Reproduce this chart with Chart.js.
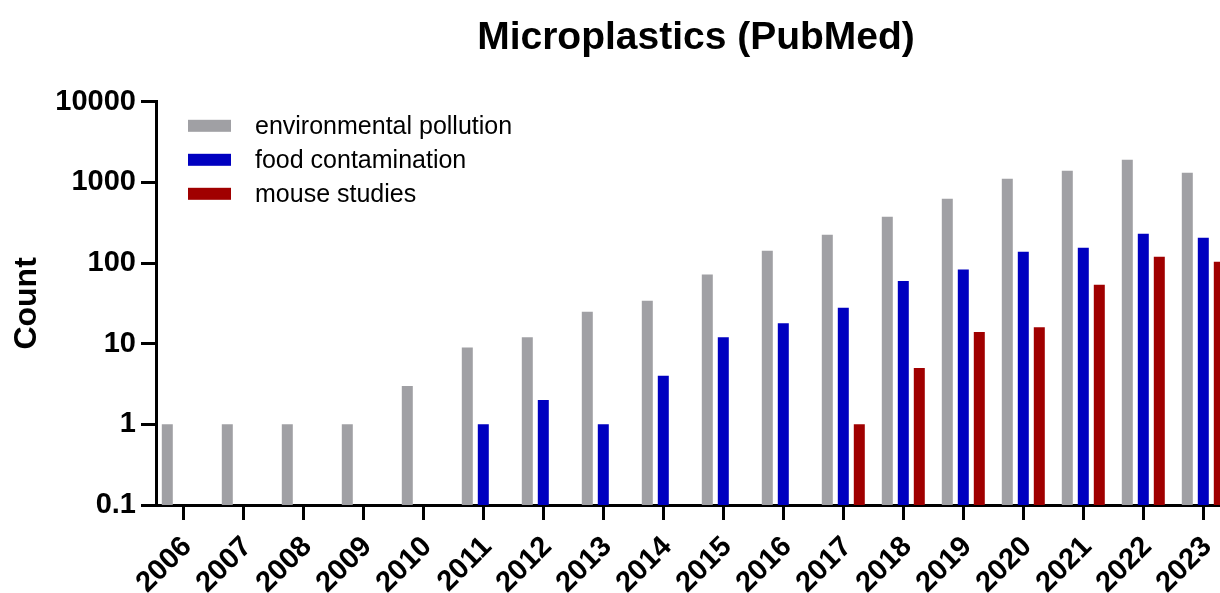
<!DOCTYPE html>
<html><head><meta charset="utf-8">
<script src="https://cdn.jsdelivr.net/npm/chart.js@4.4.0/dist/chart.umd.min.js"></script>
<style>
html,body{margin:0;padding:0;overflow:hidden;background:#fff;width:1220px;height:593px}
#c{position:absolute;left:0;top:0}
</style></head>
<body><canvas id="c" width="1236" height="593"></canvas>
<script>
const years = ['2006','2007','2008','2009','2010','2011','2012','2013','2014','2015','2016','2017','2018','2019','2020','2021','2022','2023'];
const environmentalPollution = [1,1,1,1,3,9,12,25,34,72,142,224,375,628,1111,1397,1914,1319];
const foodContamination = [null,null,null,null,null,1,2,1,4,12,18,28,60,83,138,155,231,206];
const mouseStudies = [null,null,null,null,null,null,null,null,null,null,null,1,5,14,16,54,120,104];
const seriesNames = ['environmental pollution','food contamination','mouse studies'];
const seriesColors = ['#a0a0a4','#0000c0','#a00000'];
const yTicks = [0.1,1,10,100,1000,10000];
const FONT = "'Liberation Sans', Arial, Helvetica, sans-serif";

Chart.defaults.color = '#000';
Chart.defaults.font.family = FONT;

const legendPlugin = {
  id: 'insideLegend',
  afterDraw(chart) {
    const ctx = chart.ctx, a = chart.chartArea;
    ctx.save();
    ctx.font = "25px " + FONT;
    ctx.textBaseline = 'middle';
    ctx.textAlign = 'left';
    chart.data.datasets.forEach((ds, i) => {
      const cy = a.top + 24 + i * 34;
      ctx.fillStyle = ds.backgroundColor;
      ctx.fillRect(a.left + 32, cy - 6, 43, 12);
      ctx.fillStyle = '#000';
      ctx.fillText(ds.label, a.left + 99, cy + 1);
    });
    ctx.restore();
  }
};

new Chart(document.getElementById('c'), {
  type: 'bar',
  data: {
    labels: years,
    datasets: [
      {label: seriesNames[0], data: environmentalPollution, backgroundColor: seriesColors[0]},
      {label: seriesNames[1], data: foodContamination, backgroundColor: seriesColors[1]},
      {label: seriesNames[2], data: mouseStudies, backgroundColor: seriesColors[2]}
    ]
  },
  options: {
    responsive: false,
    animation: false,
    categoryPercentage: 0.8,
    barPercentage: 0.6875,
    layout: {padding: {left: 0, right: 0, top: 0, bottom: 0}},
    plugins: {
      legend: {display: false},
      tooltip: {enabled: false},
      title: {
        display: true,
        text: 'Microplastics (PubMed)',
        fullSize: false,
        font: {size: 39, weight: 'bold', family: FONT},
        color: '#000',
        padding: {top: 15, bottom: 40}
      }
    },
    scales: {
      x: {
        type: 'category',
        offset: true,
        grid: {display: true, offset: false, drawOnChartArea: false, drawTicks: true, tickLength: 15, tickWidth: 3, tickColor: '#000'},
        border: {display: true, color: '#000', width: 3},
        afterBuildTicks(scale) { scale._startValue = scale.min - 0.455; },
        ticks: {
          minRotation: 45, maxRotation: 45, autoSkip: false, padding: 10, labelOffset: 4,
          font: {size: 29, weight: 'bold', family: FONT}, color: '#000'
        },
        afterFit(scale) { scale.height = 88; scale.paddingLeft = 0; scale.paddingRight = 0; }
      },
      y: {
        type: 'logarithmic',
        min: 0.1,
        max: 10000,
        grid: {display: true, drawOnChartArea: false, drawTicks: true, tickLength: 15, tickWidth: 3, tickColor: '#000'},
        border: {display: true, color: '#000', width: 3},
        afterBuildTicks(scale) { scale.ticks = yTicks.map(v => ({value: v, major: true})); },
        ticks: {
          padding: 5,
          font: {size: 29, weight: 'bold', family: FONT}, color: '#000',
          callback: (v) => String(v)
        },
        title: {display: true, text: 'Count', font: {size: 32, weight: 'bold', family: FONT}, color: '#000', padding: {top: 8, bottom: 0}},
        afterFit(scale) { scale.width = 156; }
      }
    }
  },
  plugins: [legendPlugin]
});
</script>
</body></html>
